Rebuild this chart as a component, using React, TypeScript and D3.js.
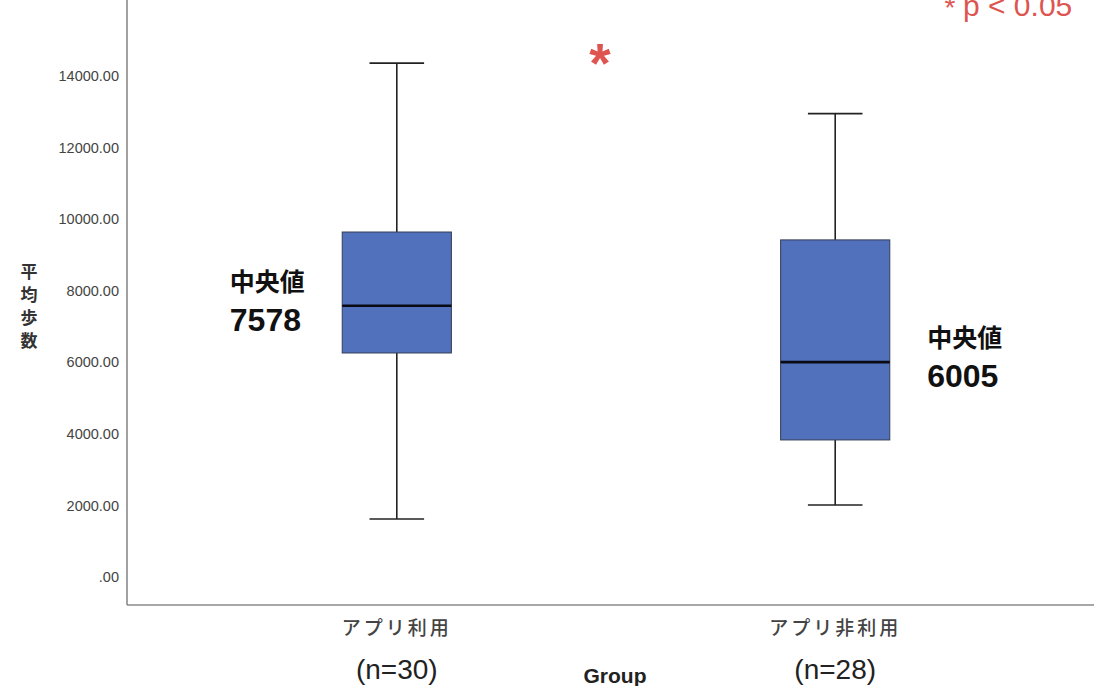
import React from "react";
import * as d3 from "d3";

const groups = ["アプリ利用", "アプリ非利用"];
const groupN = ["(n=30)", "(n=28)"];
const whiskerLow = [1620, 2010];
const q1 = [6260, 3830];
const median = [7578, 6005];
const q3 = [9640, 9420];
const whiskerHigh = [14360, 12950];
const medianLabels = ["7578", "6005"];
const yTicks = [0, 2000, 4000, 6000, 8000, 10000, 12000, 14000];
const yTickLabels = [".00", "2000.00", "4000.00", "6000.00", "8000.00", "10000.00", "12000.00", "14000.00"];
const yTitle = ["平", "均", "歩", "数"];
const xTitle = "Group";
const sigNote = "p < 0.05";

const W = 1094;
const H = 686;
const axisX = 127;
const axisBottom = 605;

const JP = "'Noto Sans CJK JP', 'Noto Sans', sans-serif";
const LAT = "'Liberation Sans', Arial, 'Noto Sans CJK JP', sans-serif";

export default function App() {
  const y = d3.scaleLinear().domain([0, 14000]).range([577, 76]);
  const x = d3.scalePoint<string>().domain(groups).range([132, 1100]).padding(0.604);
  const step = x.step();
  const boxW = step * 0.249;
  const capW = boxW * 0.5;
  const boxFill = "#5171bd";
  const red = "#de5550";

  return (
    <svg
      width={W}
      height={H}
      viewBox={`0 0 ${W} ${H}`}
      style={{ position: "fixed", left: 0, top: 0, background: "#fff" }}
    >
      <rect x={0} y={0} width={W} height={H} fill="#fff" />
      {/* axes */}
      <line x1={axisX} y1={0} x2={axisX} y2={axisBottom} stroke="#8a8a8a" strokeWidth={1.6} />
      <line x1={axisX} y1={axisBottom} x2={W} y2={axisBottom} stroke="#8a8a8a" strokeWidth={1.6} />

      {/* y ticks labels */}
      {yTicks.map((t, i) => (
        <text
          key={t}
          x={119}
          y={y(t)}
          dy="0.35em"
          textAnchor="end"
          fontFamily={LAT}
          fontSize={14.5}
          fill="#444"
        >
          {yTickLabels[i]}
        </text>
      ))}

      {/* y title stacked */}
      {yTitle.map((c, i) => (
        <text
          key={c}
          x={29}
          y={272 + i * 23}
          dy="0.35em"
          textAnchor="middle"
          fontFamily={JP}
          fontWeight={700}
          fontSize={17}
          fill="#333"
        >
          {c}
        </text>
      ))}

      {/* boxes */}
      {groups.map((g, i) => {
        const cx = x(g) as number;
        return (
          <g key={g}>
            <line x1={cx} x2={cx} y1={y(whiskerHigh[i])} y2={y(q3[i])} stroke="#222" strokeWidth={1.6} />
            <line x1={cx} x2={cx} y1={y(q1[i])} y2={y(whiskerLow[i])} stroke="#222" strokeWidth={1.6} />
            <line x1={cx - capW / 2} x2={cx + capW / 2} y1={y(whiskerHigh[i])} y2={y(whiskerHigh[i])} stroke="#222" strokeWidth={1.6} />
            <line x1={cx - capW / 2} x2={cx + capW / 2} y1={y(whiskerLow[i])} y2={y(whiskerLow[i])} stroke="#222" strokeWidth={1.6} />
            <rect
              x={cx - boxW / 2}
              y={y(q3[i])}
              width={boxW}
              height={y(q1[i]) - y(q3[i])}
              fill={boxFill}
              stroke="#333c55"
              strokeWidth={1}
            />
            <line x1={cx - boxW / 2} x2={cx + boxW / 2} y1={y(median[i])} y2={y(median[i])} stroke="#0a0a14" strokeWidth={2.6} />
            <text x={cx} y={635} textAnchor="middle" fontFamily={JP} fontWeight={500} fontSize={19} fill="#444" letterSpacing={3}>
              {g}
            </text>
            <text x={cx} y={669} dy="0.35em" textAnchor="middle" fontFamily={LAT} fontSize={28} fill="#222">
              {groupN[i]}
            </text>
          </g>
        );
      })}

      {/* median annotations */}
      {groups.map((g, i) => {
        const cx = x(g) as number;
        const lx = i === 0 ? cx - 167 : cx + 92;
        const ly = i === 0 ? 282 : 338;
        return (
          <g key={"m" + g}>
            <text x={lx} y={ly} dy="0.35em" fontFamily={JP} fontWeight={700} fontSize={25} fill="#111">
              中央値
            </text>
            <text x={lx} y={ly + 38} dy="0.35em" fontFamily={LAT} fontWeight={700} fontSize={32} fill="#111">
              {medianLabels[i]}
            </text>
          </g>
        );
      })}

      {/* x title */}
      <text x={615} y={676} dy="0.35em" textAnchor="middle" fontFamily={LAT} fontWeight={700} fontSize={21} fill="#222">
        {xTitle}
      </text>

      {/* significance */}
      <text x={600} y={82} textAnchor="middle" fontFamily={LAT} fontWeight={700} fontSize={55} fill={red}>
        *
      </text>
      <text x={950} y={17} textAnchor="middle" fontFamily={LAT} fontSize={28} fill={red}>
        *
      </text>
      <text x={963} y={16} fontFamily={LAT} fontSize={30} fill={red}>
        {sigNote}
      </text>
    </svg>
  );
}
